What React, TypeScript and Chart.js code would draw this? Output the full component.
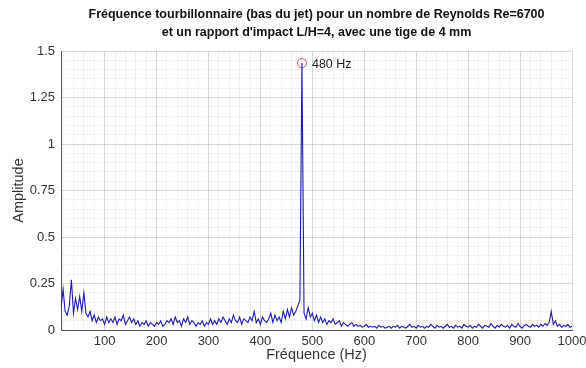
import React, { useEffect, useRef } from "react";
import { Chart, registerables } from "chart.js";

Chart.register(...registerables);

const TITLE_LINES = [
  "Fréquence tourbillonnaire (bas du jet) pour un nombre de Reynolds Re=6700",
  "et un rapport d'impact L/H=4, avec une tige de 4 mm",
];
const X_LABEL = "Fréquence (Hz)";
const Y_LABEL = "Amplitude";
const PEAK_LABEL = "480 Hz";

const FREQ_START = 16;
const FREQ_STEP = 4;

const AMP_16_112 = [
  0.12, 0.22, 0.1, 0.08, 0.13,
  0.27, 0.09, 0.17, 0.11, 0.18,
  0.1, 0.2, 0.09, 0.07, 0.1,
  0.05, 0.08, 0.04, 0.07, 0.05,
  0.06, 0.03, 0.07, 0.04, 0.06,
];
const AMP_116_212 = [
  0.04, 0.07, 0.03, 0.06, 0.05,
  0.08, 0.03, 0.05, 0.07, 0.04,
  0.06, 0.03, 0.05, 0.02, 0.04,
  0.03, 0.05, 0.02, 0.04, 0.03,
  0.02, 0.04, 0.03, 0.05, 0.02,
];
const AMP_216_312 = [
  0.03, 0.05, 0.04, 0.06, 0.03,
  0.07, 0.04, 0.05, 0.02, 0.06,
  0.04, 0.07, 0.03, 0.05, 0.04,
  0.02, 0.04, 0.03, 0.05, 0.02,
  0.04, 0.03, 0.06, 0.03, 0.05,
];
const AMP_316_412 = [
  0.03, 0.06, 0.04, 0.07, 0.05,
  0.03, 0.06, 0.04, 0.08, 0.05,
  0.04, 0.07, 0.03, 0.06, 0.05,
  0.04, 0.07, 0.05, 0.1, 0.04,
  0.06, 0.03, 0.07, 0.05, 0.04,
];
const AMP_416_512 = [
  0.06, 0.09, 0.04, 0.08, 0.05,
  0.07, 0.04, 0.1, 0.06, 0.11,
  0.07, 0.12, 0.08, 0.1, 0.13,
  0.16, 1.435, 0.09, 0.06, 0.12,
  0.07, 0.09, 0.05, 0.08, 0.04,
];
const AMP_516_612 = [
  0.07, 0.04, 0.06, 0.03, 0.05,
  0.04, 0.06, 0.03, 0.04, 0.05,
  0.02, 0.04, 0.03, 0.02, 0.03,
  0.04, 0.02, 0.03, 0.02, 0.025,
  0.015, 0.02, 0.03, 0.015, 0.02,
];
const AMP_616_712 = [
  0.015, 0.02, 0.01, 0.025, 0.015,
  0.02, 0.01, 0.015, 0.02, 0.01,
  0.02, 0.015, 0.025, 0.01, 0.02,
  0.015, 0.01, 0.02, 0.03, 0.015,
  0.02, 0.01, 0.025, 0.015, 0.02,
];
const AMP_716_812 = [
  0.01, 0.02, 0.015, 0.03, 0.02,
  0.01, 0.025, 0.015, 0.02, 0.01,
  0.02, 0.03, 0.015, 0.02, 0.01,
  0.025, 0.015, 0.02, 0.01, 0.03,
  0.02, 0.015, 0.025, 0.01, 0.02,
];
const AMP_816_912 = [
  0.015, 0.03, 0.02, 0.01, 0.025,
  0.02, 0.015, 0.035, 0.02, 0.01,
  0.025, 0.015, 0.03, 0.02, 0.015,
  0.025, 0.01, 0.03, 0.02, 0.015,
  0.035, 0.02, 0.01, 0.025, 0.03,
];
const AMP_916_1000 = [
  0.02, 0.015, 0.03, 0.02, 0.025,
  0.015, 0.03, 0.02, 0.035, 0.025,
  0.04, 0.1, 0.03, 0.05, 0.02,
  0.03, 0.015, 0.025, 0.02, 0.03,
  0.015, 0.02,
];

const AMPLITUDES = [
  ...AMP_16_112, ...AMP_116_212, ...AMP_216_312, ...AMP_316_412, ...AMP_416_512,
  ...AMP_516_612, ...AMP_616_712, ...AMP_716_812, ...AMP_816_912, ...AMP_916_1000,
];

const PEAK_FREQ = 480;
const PEAK_AMP = 1.435;

const X_TICKS = [100, 200, 300, 400, 500, 600, 700, 800, 900, 1000];
const Y_TICKS = [0, 0.25, 0.5, 0.75, 1, 1.25, 1.5];
const X_MINOR_STEP = 20;
const Y_MINOR_STEP = 0.05;

const FONT = "'Liberation Sans', Arial, Helvetica, sans-serif";

export default function App() {
  const ref = useRef<HTMLCanvasElement | null>(null);

  useEffect(() => {
    const canvas = ref.current;
    if (!canvas) return;

    const points = AMPLITUDES.map((a, i) => ({ x: FREQ_START + i * FREQ_STEP, y: a }));

    const xMinorTicks: { value: number }[] = [];
    for (let v = X_MINOR_STEP; v <= 1000; v += X_MINOR_STEP) xMinorTicks.push({ value: v });
    const yMinorTicks: { value: number }[] = [];
    for (let k = 0; k <= 30; k++) yMinorTicks.push({ value: +(k * Y_MINOR_STEP).toFixed(2) });

    const peakLabelPlugin = {
      id: "peakLabel",
      afterDatasetsDraw(chart: any) {
        const meta = chart.getDatasetMeta(1);
        const pt = meta && meta.data && meta.data[0];
        if (!pt) return;
        const ctx = chart.ctx;
        ctx.save();
        ctx.font = `12.5px ${FONT}`;
        ctx.fillStyle = "#222222";
        ctx.textAlign = "left";
        ctx.textBaseline = "middle";
        ctx.fillText(PEAK_LABEL, pt.x + 10, pt.y + 1);
        ctx.restore();
      },
    };

    const noSidePad = (s: any) => {
      s.paddingLeft = 0;
      s.paddingRight = 0;
      s.paddingTop = 0;
      s.paddingBottom = 0;
    };

    const chart = new Chart(canvas, {
      type: "line",
      data: {
        datasets: [
          {
            data: points,
            borderColor: "#1c1cb0",
            borderWidth: 1.1,
            pointRadius: 0,
            tension: 0,
            fill: false,
          },
          {
            type: "scatter",
            data: [{ x: PEAK_FREQ, y: PEAK_AMP }],
            pointStyle: "circle",
            pointRadius: 4.5,
            borderColor: "#d0507a",
            borderWidth: 1,
            backgroundColor: "rgba(0,0,0,0)",
            showLine: false,
          } as any,
        ],
      },
      options: {
        animation: false,
        responsive: false,
        events: [],
        layout: { padding: { left: 0, right: 14, top: 0, bottom: 0 } },
        plugins: {
          legend: { display: false },
          tooltip: { enabled: false },
          title: {
            display: true,
            text: TITLE_LINES,
            fullSize: false,
            color: "#111111",
            font: { family: FONT, size: 12.5, weight: "bold", lineHeight: 1.44 },
            padding: { top: 6, bottom: 9 },
          },
        },
        scales: {
          xm: {
            type: "linear",
            position: "bottom",
            min: FREQ_START,
            max: 1000,
            z: -1,
            afterBuildTicks: (s: any) => { s.ticks = xMinorTicks.slice(); },
            afterFit: (s: any) => { s.height = 0; noSidePad(s); },
            ticks: { display: false },
            border: { display: false },
            grid: { color: "rgba(60,60,60,0.07)", lineWidth: 1, drawTicks: false } as any,
          },
          ym: {
            type: "linear",
            position: "left",
            min: 0,
            max: 1.5,
            z: -1,
            afterBuildTicks: (s: any) => { s.ticks = yMinorTicks.slice(); },
            afterFit: (s: any) => { s.width = 0; noSidePad(s); },
            ticks: { display: false },
            border: { display: false },
            grid: { color: "rgba(60,60,60,0.07)", lineWidth: 1, drawTicks: false } as any,
          },
          x: {
            type: "linear",
            position: "bottom",
            min: FREQ_START,
            max: 1000,
            afterBuildTicks: (s: any) => { s.ticks = X_TICKS.map((v) => ({ value: v })); },
            afterFit: (s: any) => { s.height = 38; noSidePad(s); },
            ticks: {
              color: "#333333",
              font: { family: FONT, size: 13 },
              padding: 4,
              maxRotation: 0,
              autoSkip: false,
              callback: (v: any) => String(v),
            },
            border: { display: true, color: "#555555", width: 1 },
            grid: { color: "rgba(40,40,40,0.13)", drawTicks: false },
            title: {
              display: true,
              text: X_LABEL,
              color: "#333333",
              font: { family: FONT, size: 14.5 },
              padding: { top: 0, bottom: 4 },
            },
          },
          y: {
            type: "linear",
            position: "left",
            min: 0,
            max: 1.5,
            afterBuildTicks: (s: any) => { s.ticks = Y_TICKS.map((v) => ({ value: v })); },
            afterFit: (s: any) => { s.width = 61; noSidePad(s); },
            ticks: {
              color: "#333333",
              font: { family: FONT, size: 13 },
              padding: 6,
              autoSkip: false,
              callback: (v: any) => String(v),
            },
            border: { display: true, color: "#555555", width: 1 },
            grid: { color: "rgba(40,40,40,0.13)", drawTicks: false },
            title: {
              display: true,
              text: Y_LABEL,
              color: "#333333",
              font: { family: FONT, size: 14.5 },
              padding: { top: 10, bottom: 0 },
            },
          },
        },
      } as any,
      plugins: [peakLabelPlugin],
    });

    return () => chart.destroy();
  }, []);

  return (
    <div style={{ position: "absolute", left: 0, top: 0, width: 586, height: 368, background: "#ffffff" }}>
      <canvas ref={ref} width={586} height={368} style={{ display: "block", width: 586, height: 368 }} />
    </div>
  );
}
